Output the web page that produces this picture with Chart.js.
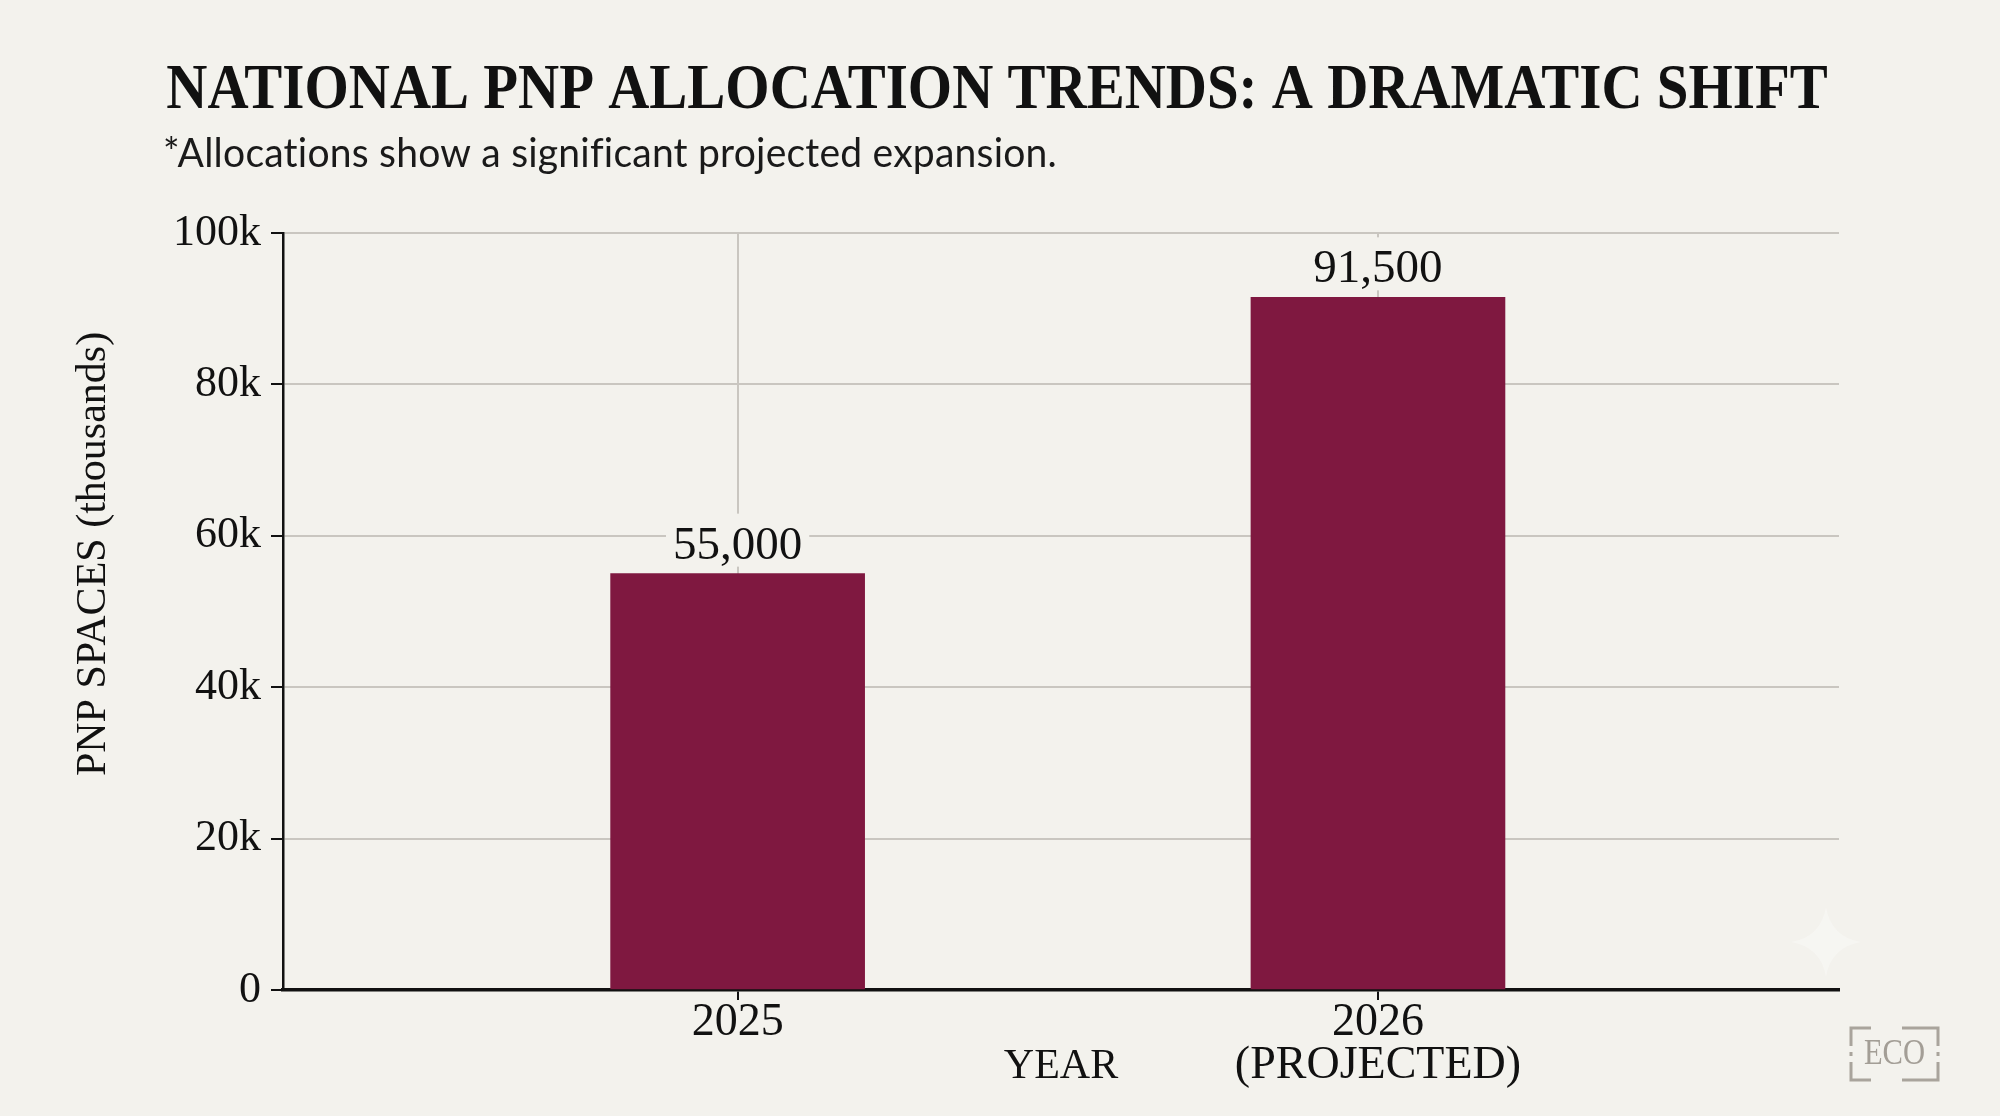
<!DOCTYPE html>
<html>
<head>
<meta charset="utf-8">
<title>National PNP Allocation Trends</title>
<script src="https://cdn.jsdelivr.net/npm/chart.js@4.4.1/dist/chart.umd.min.js"></script>
<style>
    html, body { margin: 0; padding: 0; background: #f3f2ed; overflow: hidden; }
    #wrap { width: 2000px; height: 1116px; position: relative; }
</style>
</head>
<body>
<div id="wrap"><canvas id="pnpChart"></canvas></div>
<script>
// data
var years = ['2025', '2026 (PROJECTED)'];
var xTickLabels = ['2025', ['2026', '(PROJECTED)']];
var pnpSpaces = [55000, 91500];
var yTickLabels = ['0', '20k', '40k', '60k', '80k', '100k'];

var chartTitle = 'NATIONAL PNP ALLOCATION TRENDS: A DRAMATIC SHIFT';
var chartSubtitle = '*Allocations show a significant projected expansion.';
var yTitle = 'PNP SPACES (thousands)';
var xTitle = 'YEAR';

var bgColor = '#f3f2ed';
var barColor = '#7f1840';
var gridColor = '#c9c6c0';
var inkColor = '#111111';
var serif = "'Liberation Serif', 'Times New Roman', serif";

document.addEventListener('DOMContentLoaded', function() {

    // paint the paper colour behind everything
    var paperPlugin = {
        id: 'paper',
        beforeDraw: function(chart) {
            var ctx = chart.ctx;
            ctx.save();
            ctx.fillStyle = bgColor;
            ctx.fillRect(0, 0, chart.width, chart.height);
            ctx.restore();
        }
    };

    // value labels above the bars, with a small paper patch behind them
    var valueLabelPlugin = {
        id: 'valueLabels',
        afterDatasetsDraw: function(chart) {
            var ctx = chart.ctx;
            var meta = chart.getDatasetMeta(0);
            ctx.save();
            ctx.font = '47px ' + serif;
            ctx.textAlign = 'center';
            ctx.textBaseline = 'alphabetic';
            meta.data.forEach(function(bar, i) {
                var text = pnpSpaces[i].toLocaleString('en-US');
                var w = ctx.measureText(text).width;
                var baseline = bar.y - 15;
                ctx.fillStyle = bgColor;
                ctx.fillRect(bar.x - w / 2 - 7, baseline - 45, w + 14, 53);
                ctx.fillStyle = inkColor;
                ctx.fillText(text, bar.x, baseline);
            });
            ctx.restore();
        }
    };

    // title, subtitle, rotated y title and the little watermark
    var headerPlugin = {
        id: 'header',
        afterDraw: function(chart) {
            var ctx = chart.ctx;
            var area = chart.chartArea;

            ctx.save();
            ctx.fillStyle = inkColor;
            ctx.textBaseline = 'alphabetic';

            // title (slightly condensed serif)
            ctx.font = 'bold 64px ' + serif;
            ctx.textAlign = 'center';
            ctx.save();
            ctx.translate(chart.width / 2 - 3, 108);
            ctx.scale(0.89, 1);
            ctx.fillText(chartTitle, 0, 0);
            ctx.restore();

            // subtitle (no ligatures, like the reference)
            ctx.font = '41px Lato, "Noto Sans", sans-serif';
            ctx.textAlign = 'left';
            ctx.letterSpacing = '0.2px';
            ctx.textRendering = 'optimizeSpeed';
            var sw = ctx.measureText(chartSubtitle).width;
            var sx = Math.min(1, 894 / sw);
            ctx.save();
            ctx.translate(163, 167);
            ctx.scale(sx, 1);
            ctx.fillStyle = '#1a1a1a';
            ctx.fillText(chartSubtitle, 0, 0);
            ctx.restore();
            ctx.letterSpacing = '0px';

            // y axis title
            ctx.save();
            ctx.translate(area.left - 189, area.top + 321);
            ctx.rotate(-Math.PI / 2);
            ctx.font = '42px ' + serif;
            ctx.textAlign = 'center';
            ctx.textBaseline = 'middle';
            ctx.fillText(yTitle, 0, 0);
            ctx.restore();

            // faint sparkle
            var cx = area.right - 13, cy = area.bottom - 48, r = 35;
            ctx.beginPath();
            ctx.moveTo(cx, cy - r);
            ctx.quadraticCurveTo(cx + 5, cy - 5, cx + r, cy);
            ctx.quadraticCurveTo(cx + 5, cy + 5, cx, cy + r);
            ctx.quadraticCurveTo(cx - 5, cy + 5, cx - r, cy);
            ctx.quadraticCurveTo(cx - 5, cy - 5, cx, cy - r);
            ctx.fillStyle = 'rgba(255, 255, 255, 0.3)';
            ctx.fill();

            // ECO mark
            var l = 1851, t = 1028, rr = 1938, b = 1080;
            ctx.strokeStyle = '#a9a49c';
            ctx.lineWidth = 3;
            ctx.beginPath();
            ctx.moveTo(l + 20, t); ctx.lineTo(l, t); ctx.lineTo(l, t + 18);
            ctx.moveTo(l, b - 18); ctx.lineTo(l, b); ctx.lineTo(l + 20, b);
            ctx.moveTo(rr - 36, t); ctx.lineTo(rr, t); ctx.lineTo(rr, t + 18);
            ctx.moveTo(rr, b - 18); ctx.lineTo(rr, b); ctx.lineTo(rr - 36, b);
            ctx.moveTo(l, t + 24); ctx.lineTo(l, b - 24);
            ctx.moveTo(rr, t + 24); ctx.lineTo(rr, b - 24);
            ctx.stroke();
            ctx.fillStyle = '#a39e96';
            ctx.font = '36px ' + serif;
            ctx.textAlign = 'center';
            ctx.textBaseline = 'middle';
            ctx.save();
            ctx.translate((l + rr) / 2, (t + b) / 2 + 1);
            ctx.scale(0.85, 1);
            ctx.fillText('ECO', 0, 0);
            ctx.restore();

            ctx.restore();
        }
    };

    var ctx = document.getElementById('pnpChart').getContext('2d');

    var pnpChart = new Chart(ctx, {
        type: 'bar',
        data: {
            datasets: [{
                label: 'PNP spaces',
                data: pnpSpaces.map(function(v, i) { return { x: i, y: v }; }),
                backgroundColor: barColor,
                borderWidth: 0,
                barThickness: 254
            }]
        },
        options: {
            responsive: true,
            maintainAspectRatio: false,
            devicePixelRatio: 1,
            animation: false,
            layout: {
                padding: { top: 233, right: 161, bottom: 0, left: 0 }
            },
            plugins: {
                legend: { display: false },
                title: { display: false },
                tooltip: { enabled: false }
            },
            scales: {
                x: {
                    type: 'linear',
                    min: -0.71,
                    max: 1.72,
                    offset: false,
                    afterBuildTicks: function(scale) {
                        scale.ticks = years.map(function(_, i) { return { value: i }; });
                    },
                    afterFit: function(scale) {
                        scale.height = 126;
                    },
                    ticks: {
                        autoSkip: false,
                        maxRotation: 0,
                        padding: 2,
                        color: inkColor,
                        font: { family: serif, size: 46, lineHeight: 0.93 },
                        callback: function(value) {
                            return xTickLabels[value];
                        }
                    },
                    grid: {
                        offset: false,
                        color: gridColor,
                        lineWidth: 2,
                        tickColor: inkColor,
                        tickLength: 10,
                        tickWidth: 2
                    },
                    border: { color: inkColor, width: 3.5 },
                    title: {
                        display: true,
                        text: xTitle,
                        color: inkColor,
                        font: { family: serif, size: 42 },
                        padding: { top: 0, bottom: 24 }
                    }
                },
                y: {
                    min: 0,
                    max: 100000,
                    afterFit: function(scale) {
                        scale.width = 283;
                    },
                    ticks: {
                        stepSize: 20000,
                        padding: 10,
                        color: inkColor,
                        font: { family: serif, size: 44 },
                        callback: function(value, index) {
                            return yTickLabels[index];
                        }
                    },
                    grid: {
                        color: gridColor,
                        lineWidth: 2,
                        tickColor: inkColor,
                        tickLength: 12,
                        tickWidth: 2
                    },
                    border: { color: inkColor, width: 2.5 }
                }
            }
        },
        plugins: [paperPlugin, valueLabelPlugin, headerPlugin]
    });
});
</script>
</body>
</html>
